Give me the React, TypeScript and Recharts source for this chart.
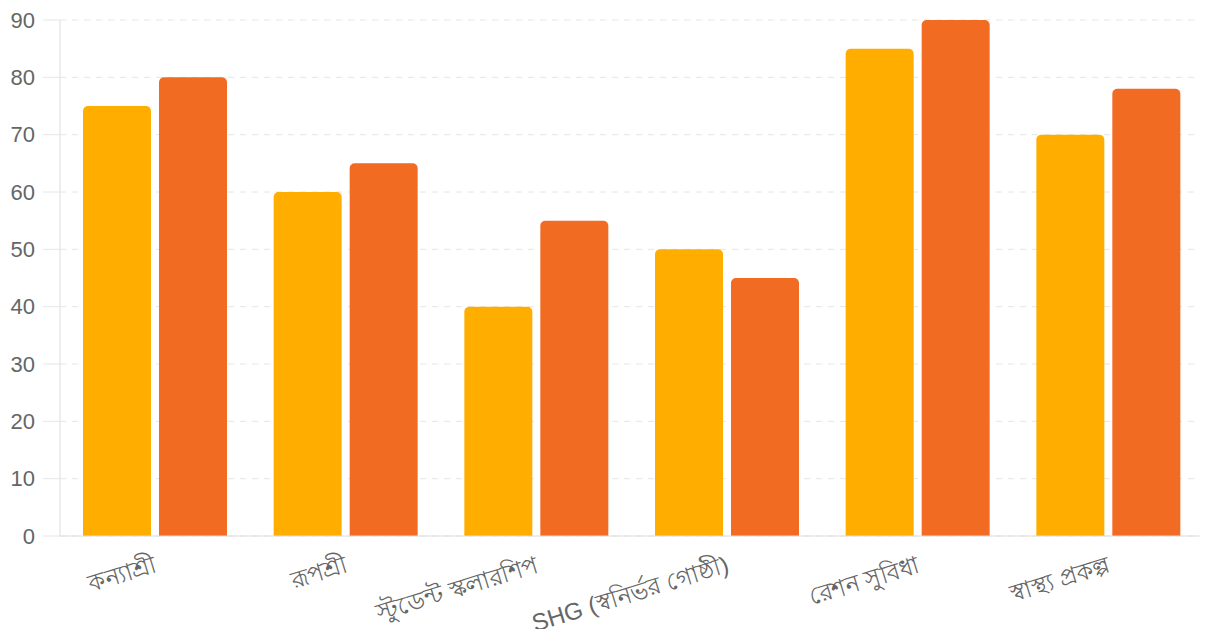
import React from "react";
import { BarChart, Bar, XAxis, YAxis, CartesianGrid } from "recharts";

const categories = [
  "কন্যাশ্রী",
  "রূপশ্রী",
  "স্টুডেন্ট স্কলারশিপ",
  "SHG (স্বনির্ভর গোষ্ঠী)",
  "রেশন সুবিধা",
  "স্বাস্থ্য প্রকল্প",
];
const seriesA = [75, 60, 40, 50, 85, 70];
const seriesB = [80, 65, 55, 45, 90, 78];
const yTicks = [0, 10, 20, 30, 40, 50, 60, 70, 80, 90];

const data = categories.map((name, i) => ({ name, a: seriesA[i], b: seriesB[i] }));

const XTick = (props: any) => {
  const { x, y, payload } = props;
  const ax = x + 3;
  const ay = y + 28;
  return (
    <text
      x={ax}
      y={ay}
      transform={`rotate(-17, ${ax}, ${ay})`}
      textAnchor="end"
      fill="#666"
      fontSize={24}
      fontFamily="'Liberation Sans', Arial, sans-serif"
    >
      {payload.value}
    </text>
  );
};

export default function App() {
  return (
    <div style={{ margin: "-8px", background: "#fff" }}>
      <BarChart
        width={1208}
        height={637}
        data={data}
        margin={{ top: 20, right: 4, left: 0, bottom: 0 }}
        barSize={68}
        barGap={8}
      >
        <CartesianGrid vertical={false} stroke="#e6e6e6" strokeDasharray="6 6" />
        <XAxis
          dataKey="name"
          height={101}
          interval={0}
          tick={<XTick />}
          tickLine={false}
          axisLine={{ stroke: "#dddddd" }}
        />
        <YAxis
          width={60}
          domain={[0, 90]}
          ticks={yTicks}
          tickSize={17}
          tickMargin={8}
          tickLine={{ stroke: "#e6e6e6" }}
          axisLine={{ stroke: "#dddddd" }}
          tick={{ fill: "#666", fontSize: 22, fontFamily: "'Liberation Sans', Arial, sans-serif" }}
        />
        <Bar dataKey="a" fill="#FFAE00" radius={[5, 5, 0, 0]} isAnimationActive={false} />
        <Bar dataKey="b" fill="#F26B22" radius={[5, 5, 0, 0]} isAnimationActive={false} />
      </BarChart>
    </div>
  );
}
